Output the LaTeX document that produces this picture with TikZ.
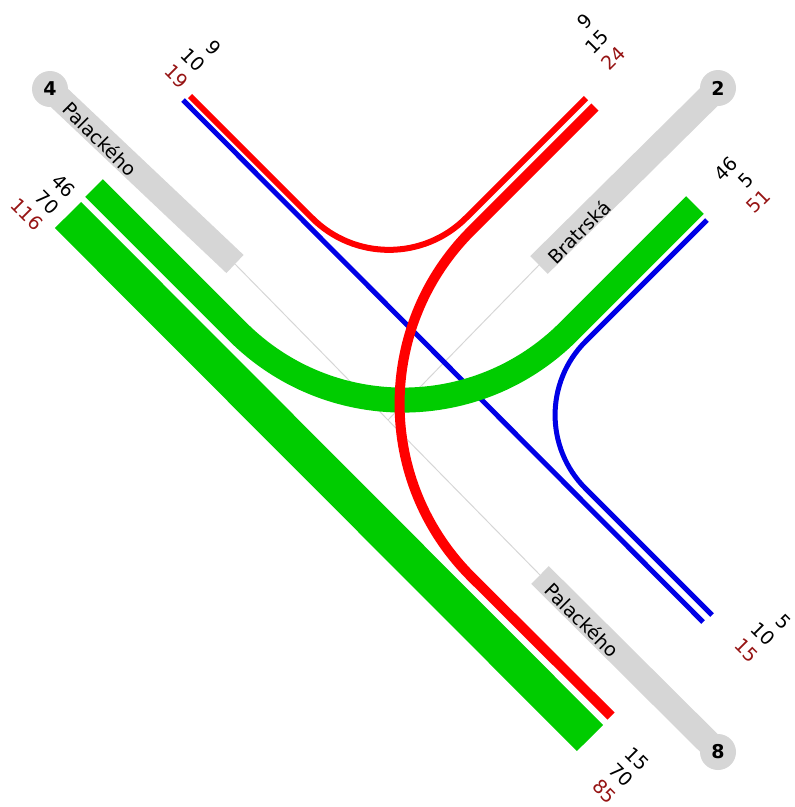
\documentclass[tikz,border=0pt]{standalone}
\usepackage{fontspec}
\setmainfont{DejaVu Sans}
\usetikzlibrary{arrows}
\definecolor{armgray}{RGB}{214,214,214}
\definecolor{flowred}{RGB}{255,0,0}
\definecolor{flowblue}{RGB}{0,0,230}
\definecolor{flowgreen}{RGB}{0,204,0}
\definecolor{sumred}{RGB}{150,20,20}

\begin{document}
\begin{tikzpicture}[x=1pt,y=-1pt]
\tikzstyle{every node}=[inner sep=0pt, font=\fontsize{19}{23}\selectfont]
\tikzstyle{arm}=[armgray, line width=25pt]
\tikzstyle{axis}=[armgray, line width=1pt]
\tikzstyle{cnt}=[circle, fill=armgray, minimum size=36pt, font=\fontsize{19}{23}\selectfont\bfseries]
\tikzstyle{lbl}=[align=right]
\useasboundingbox (0,0) rectangle (795,807);
\coordinate (c) at (388,420);
\coordinate (e4) at (235,264);
\coordinate (e2) at (539,265);
\coordinate (e8) at (540,575);
\draw (50,89) node (a4) [cnt] {};
\draw (718,88) node (a2) [cnt] {};
\draw (718,752) node (a8) [cnt] {};
\draw[axis] (e4) -- (e8);
\draw[axis] (e2) -- (c);
\draw[arm] (a4.center) -- (e4);
\draw[arm] (a2.center) -- (e2);
\draw[arm] (a8.center) -- (e8);
\draw (a4) node [font=\fontsize{19}{23}\selectfont\bfseries] {4};
\draw (a2) node [font=\fontsize{19}{23}\selectfont\bfseries] {2};
\draw (a8) node [font=\fontsize{19}{23}\selectfont\bfseries] {8};
\node (t4) [rotate=-45] at (100,139) {Palackého};
\node (t2) [rotate=45] at (579,232) {Bratrská};
\node (t8) [rotate=-45] at (582,620) {Palackého};
\draw[flowblue, line width=5pt] (183,100) -- (703,622);
\draw[flowgreen, line width=37pt] (68,215) -- (590,738);
\draw[flowgreen, line width=25pt, rounded corners=234pt] (94,188) -- (403,497) -- (695,205);
\draw[flowblue, line width=5pt, rounded corners=104pt] (707,220) -- (512,415) -- (712,615);
\draw[flowred, line width=6pt, rounded corners=109pt] (190,96) -- (389,295) -- (586,98);
\draw[flowred, line width=10pt, rounded corners=245pt] (595,107) -- (298,404) -- (611,716);
\node (l4a) [lbl, rotate=-45] at (193,60) {9\\10\\\textcolor{sumred}{19}};
\node (l4b) [lbl, rotate=-45] at (43,198) {46\\70\\\textcolor{sumred}{116}};
\node (l2a) [lbl, rotate=45] at (597,42) {9\\15\\\textcolor{sumred}{24}};
\node (l2b) [lbl, rotate=45] at (742,185) {46\\5\\\textcolor{sumred}{51}};
\node (l8a) [lbl, rotate=-45] at (763,634) {5\\10\\\textcolor{sumred}{15}};
\node (l8b) [lbl, rotate=-45] at (621,775) {15\\70\\\textcolor{sumred}{85}};
\end{tikzpicture}
\end{document}
